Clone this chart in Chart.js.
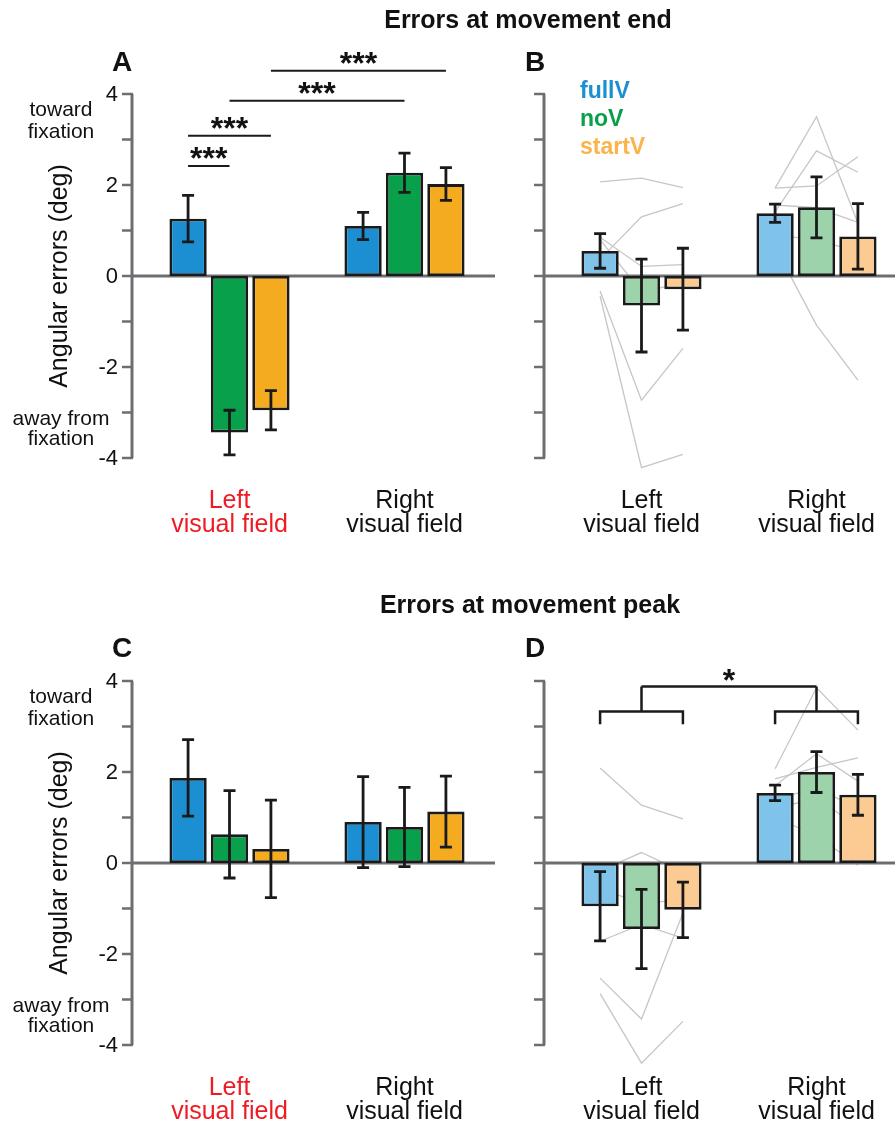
<!DOCTYPE html>
<html>
<head>
<meta charset="utf-8">
<script src="https://cdn.jsdelivr.net/npm/chart.js@4.4.1/dist/chart.umd.min.js"></script>
<style>
  html, body { margin: 0; padding: 0; background: #fff; }
  body { position: relative; width: 895px; height: 1126px; overflow: hidden; font-family: "Liberation Sans", Arial, sans-serif; }
  canvas { position: absolute; }
  .title { position: absolute; font-weight: bold; font-size: 25px; line-height: 1; white-space: nowrap; transform: translateX(-50%); color: #111; }
  .letter { position: absolute; font-weight: bold; font-size: 28px; line-height: 1; color: #111; }
</style>
</head>
<body>
<canvas id="panelA" width="500" height="587" style="left:0;top:0"></canvas>
<canvas id="panelB" width="450" height="587" style="left:460px;top:0"></canvas>
<canvas id="panelC" width="500" height="539" style="left:0;top:587px"></canvas>
<canvas id="panelD" width="450" height="539" style="left:460px;top:587px"></canvas>

<div class="title" style="left:528px; top:7px">Errors at movement end</div>
<div class="title" style="left:530px; top:592px">Errors at movement peak</div>
<div class="letter" style="left:112px; top:48px">A</div>
<div class="letter" style="left:525px; top:48px">B</div>
<div class="letter" style="left:112px; top:634px">C</div>
<div class="letter" style="left:525px; top:634px">D</div>

<script>
// Categories / conditions
const groupLabels = [['Left', 'visual field'], ['Right', 'visual field']];
const conditions = ['fullV', 'noV', 'startV'];
const yTickValues = [4, 3, 2, 1, 0, -1, -2, -3, -4];
const yTickLabels = ['4', '', '2', '', '0', '', '-2', '', '-4'];

// A: errors at movement end, group means [left, right] and error bars
const aFullV = [1.26, 1.10];
const aNoV = [-3.44, 2.27];
const aStartV = [-2.95, 2.02];
const aFullVErr = [0.51, 0.30];
const aNoVErr = [0.49, 0.43];
const aStartVErr = [0.43, 0.36];

// B: errors at movement end (subjects)
const bFullV = [0.55, 1.38];
const bNoV = [-0.65, 1.51];
const bStartV = [-0.29, 0.87];
const bFullVErr = [0.38, 0.20];
const bNoVErr = [1.02, 0.67];
const bStartVErr = [0.90, 0.72];
// individual subjects [fullV, noV, startV]
const bLeftSubjects = [
  [2.07, 2.15, 1.94],
  [0.37, 1.30, 1.59],
  [0.85, 0.21, 0.25],
  [0.80, -0.35, -0.15],
  [-0.33, -2.73, -1.59],
  [-0.44, -4.21, -3.92]
];
const bRightSubjects = [
  [1.93, 3.50, 1.16],
  [1.93, 1.98, 2.62],
  [1.41, 2.75, 2.28],
  [0.64, -1.08, -2.29],
  [1.56, 1.50, 1.18],
  [0.90, 0.80, 0.53]
];

// C: errors at movement peak
const cFullV = [1.87, 0.90];
const cNoV = [0.63, 0.79];
const cStartV = [0.31, 1.13];
const cFullVErr = [0.84, 1.00];
const cNoVErr = [0.96, 0.87];
const cStartVErr = [1.07, 0.78];

// D: errors at movement peak (subjects)
const dFullV = [-0.95, 1.54];
const dNoV = [-1.45, 2.00];
const dStartV = [-1.03, 1.50];
const dFullVErr = [0.76, 0.17];
const dNoVErr = [0.87, 0.45];
const dStartVErr = [0.61, 0.45];
const dLeftSubjects = [
  [2.09, 1.27, 0.97],
  [-0.17, 0.23, -0.20],
  [-1.72, -1.35, -1.65],
  [-2.53, -3.43, -1.10],
  [-2.87, -4.40, -3.48],
  [-0.55, -0.90, -0.80]
];
const dRightSubjects = [
  [2.07, 3.85, 2.92],
  [1.85, 2.10, 2.31],
  [1.70, 2.40, 1.80],
  [1.00, 0.60, -0.05],
  [1.40, 1.65, 1.20],
  [1.22, 1.40, 0.82]
];

// significance: [group, cond] -> [group, cond] at level
const aSigFrom = [[0, 0], [0, 0], [0, 1], [0, 2]];
const aSigTo = [[0, 1], [0, 2], [1, 1], [1, 2]];
const aSigLevel = [2.42, 3.08, 3.85, 4.51];
const dBracketLevels = [3.05, 3.33, 3.88]; // tip, arm, top

const darkColors = ['#1b8fd2', '#08a04a', '#f5ab1f'];
const lightColors = ['#80c3ea', '#9dd3aa', '#fccb93'];
const legendColors = ['#1b8fd2', '#08a04a', '#fbb34a'];
const FONT = "'Liberation Sans', Arial, sans-serif";
const AXIS = '#6d6e71';
const INK = '#1a1a1a';

function makeDecor(opts) {
  return {
    id: 'panelDecor',
    beforeDatasetsDraw(chart) {
      const { ctx, chartArea } = chart;
      const y = chart.scales.y;
      const x = chart.scales.x;
      const barX = (g, k) => chart.getDatasetMeta(k).data[g].x;
      const axisX = chartArea.left - 10;
      ctx.save();
      // individual subject lines (behind bars)
      if (opts.subjects) {
        ctx.strokeStyle = '#c6c6c6';
        ctx.lineWidth = 1.3;
        opts.subjects.forEach((grp, g) => {
          grp.forEach(vals => {
            ctx.beginPath();
            vals.forEach((v, k) => {
              const px = barX(g, k), py = y.getPixelForValue(v);
              if (k === 0) ctx.moveTo(px, py); else ctx.lineTo(px, py);
            });
            ctx.stroke();
          });
        });
      }
      // zero line
      ctx.strokeStyle = AXIS;
      ctx.lineWidth = 3;
      ctx.beginPath();
      ctx.moveTo(axisX, y.getPixelForValue(0));
      ctx.lineTo(chartArea.right + 3, y.getPixelForValue(0));
      ctx.stroke();
      // y axis + ticks
      ctx.beginPath();
      ctx.moveTo(axisX, y.getPixelForValue(4));
      ctx.lineTo(axisX, y.getPixelForValue(-4));
      ctx.stroke();
      ctx.lineWidth = 2.5;
      yTickValues.forEach(v => {
        const py = y.getPixelForValue(v);
        ctx.beginPath();
        ctx.moveTo(axisX - 10, py);
        ctx.lineTo(axisX + 1, py);
        ctx.stroke();
      });
      if (opts.leftLabels) {
        ctx.fillStyle = '#111';
        ctx.font = '22px ' + FONT;
        ctx.textAlign = 'right';
        ctx.textBaseline = 'middle';
        yTickValues.forEach((v, i) => {
          if (yTickLabels[i]) ctx.fillText(yTickLabels[i], axisX - 14, y.getPixelForValue(v) + 1);
        });
        ctx.textAlign = 'center';
        ctx.textBaseline = 'alphabetic';
        ctx.font = '21px ' + FONT;
        const cx = axisX - 71;
        const tY = y.getPixelForValue(3.27);
        ctx.fillText('toward', cx, tY - 11);
        ctx.fillText('fixation', cx, tY + 11);
        const aY = y.getPixelForValue(-3.5);
        ctx.fillText('away from', cx, aY - 10);
        ctx.fillText('fixation', cx, aY + 10);
        ctx.save();
        ctx.translate(axisX - 72, y.getPixelForValue(0));
        ctx.rotate(-Math.PI / 2);
        ctx.font = '25px ' + FONT;
        ctx.textBaseline = 'middle';
        ctx.fillText('Angular errors (deg)', 0, 0);
        ctx.restore();
      }
      // group labels
      ctx.font = '25px ' + FONT;
      ctx.textAlign = 'center';
      ctx.textBaseline = 'alphabetic';
      groupLabels.forEach((lines, g) => {
        ctx.fillStyle = (opts.redLeft && g === 0) ? '#ed1c24' : '#111';
        const px = x.getPixelForValue(g);
        ctx.fillText(lines[0], px, chartArea.bottom + 50);
        ctx.fillText(lines[1], px, chartArea.bottom + 74);
      });
      ctx.restore();
    },
    afterDatasetsDraw(chart) {
      const { ctx, chartArea } = chart;
      const y = chart.scales.y;
      const barX = (g, k) => chart.getDatasetMeta(k).data[g].x;
      ctx.save();
      // error bars
      ctx.strokeStyle = INK;
      ctx.lineWidth = 2.8;
      for (let k = 0; k < 3; k++) {
        for (let g = 0; g < 2; g++) {
          const bx = barX(g, k);
          const m = opts.means[k][g], e = opts.errs[k][g];
          const t = y.getPixelForValue(m + e), b = y.getPixelForValue(m - e);
          ctx.beginPath();
          ctx.moveTo(bx, t); ctx.lineTo(bx, b);
          ctx.moveTo(bx - 6, t); ctx.lineTo(bx + 6, t);
          ctx.moveTo(bx - 6, b); ctx.lineTo(bx + 6, b);
          ctx.stroke();
        }
      }
      ctx.fillStyle = '#111';
      ctx.textAlign = 'center';
      ctx.textBaseline = 'alphabetic';
      ctx.font = 'bold 32px ' + FONT;
      // significance lines
      if (opts.sig) {
        ctx.lineWidth = 2;
        opts.sig.from.forEach((f, i) => {
          const t = opts.sig.to[i];
          const x1 = barX(f[0], f[1]), x2 = barX(t[0], t[1]);
          const py = y.getPixelForValue(opts.sig.level[i]);
          ctx.beginPath();
          ctx.moveTo(x1, py); ctx.lineTo(x2, py);
          ctx.stroke();
          ctx.fillText('***', (x1 + x2) / 2, py + 3);
        });
      }
      // bracket comparison
      if (opts.bracket) {
        const [tip, arm, top] = opts.bracket.map(v => y.getPixelForValue(v));
        ctx.lineWidth = 2.5;
        const centers = [];
        for (let g = 0; g < 2; g++) {
          const xl = barX(g, 0), xc = barX(g, 1), xr = barX(g, 2);
          centers.push(xc);
          ctx.beginPath();
          ctx.moveTo(xl, tip); ctx.lineTo(xl, arm); ctx.lineTo(xr, arm); ctx.lineTo(xr, tip);
          ctx.moveTo(xc, arm); ctx.lineTo(xc, top);
          ctx.stroke();
        }
        ctx.beginPath();
        ctx.moveTo(centers[0], top); ctx.lineTo(centers[1], top);
        ctx.stroke();
        ctx.fillText('*', (centers[0] + centers[1]) / 2, top + 5);
      }
      // legend
      if (opts.legend) {
        ctx.textAlign = 'left';
        ctx.font = 'bold 23px ' + FONT;
        const ly = y.getPixelForValue(4);
        conditions.forEach((c, k) => {
          ctx.fillStyle = legendColors[k];
          ctx.fillText(c, chartArea.left + 26, ly + 4 + k * 28);
        });
      }
      ctx.restore();
    }
  };
}

function makePanel(id, opts) {
  const canvas = document.getElementById(id);
  const datasets = conditions.map((c, k) => ({
    label: c,
    data: opts.means[k],
    backgroundColor: opts.colors[k],
    borderColor: INK,
    borderWidth: 2.8,
    borderSkipped: false,
    categoryPercentage: 0.71,
    barPercentage: 0.9
  }));
  return new Chart(canvas.getContext('2d'), {
    type: 'bar',
    data: { labels: groupLabels.map(l => l.join(' ')), datasets },
    options: {
      responsive: false,
      animation: false,
      layout: { padding: { left: opts.padLeft, right: canvas.width - opts.padLeft - 350, top: 94, bottom: canvas.height - 458 } },
      scales: {
        x: { type: 'category', display: false, offset: true },
        y: { min: -4, max: 4, display: false }
      },
      plugins: { legend: { display: false }, tooltip: { enabled: false } }
    },
    plugins: [makeDecor(opts)]
  });
}

makePanel('panelA', {
  padLeft: 142, leftLabels: true, redLeft: true, colors: darkColors,
  means: [aFullV, aNoV, aStartV], errs: [aFullVErr, aNoVErr, aStartVErr],
  sig: { from: aSigFrom, to: aSigTo, level: aSigLevel }
});
makePanel('panelB', {
  padLeft: 94, colors: lightColors, legend: true,
  means: [bFullV, bNoV, bStartV], errs: [bFullVErr, bNoVErr, bStartVErr],
  subjects: [bLeftSubjects, bRightSubjects]
});
makePanel('panelC', {
  padLeft: 142, leftLabels: true, redLeft: true, colors: darkColors,
  means: [cFullV, cNoV, cStartV], errs: [cFullVErr, cNoVErr, cStartVErr]
});
makePanel('panelD', {
  padLeft: 94, colors: lightColors,
  means: [dFullV, dNoV, dStartV], errs: [dFullVErr, dNoVErr, dStartVErr],
  subjects: [dLeftSubjects, dRightSubjects],
  bracket: dBracketLevels
});
</script>
</body>
</html>
